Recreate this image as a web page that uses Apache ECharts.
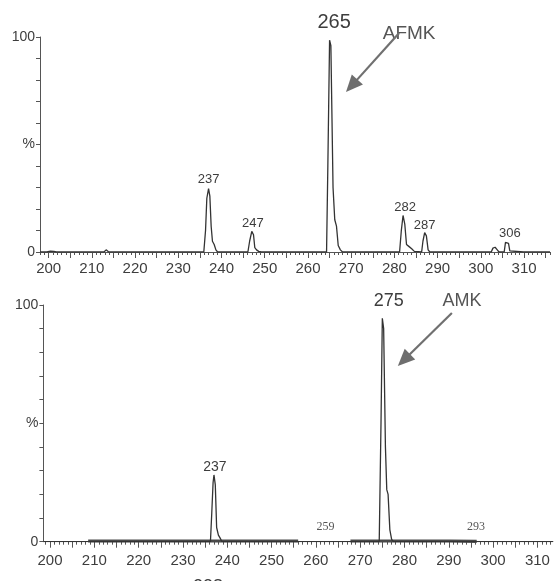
<!DOCTYPE html>
<html>
<head>
<meta charset="utf-8">
<script src="https://cdn.jsdelivr.net/npm/echarts@6/dist/echarts.min.js"></script>
<style>
html, body { margin: 0; padding: 0; background: #ffffff; }
#chart { width: 554px; height: 581px; }
</style>
</head>
<body>
<div id="chart"></div>
<script>
// Upper spectrum (AFMK): m/z and relative intensity (%)
const afmkMz = [198, 199.6, 200.4, 201.2, 201.8, 212.8, 213.3, 213.9,
  235.9, 236.3, 236.6, 237.0, 237.3, 237.6, 237.9, 238.3, 238.7, 239.1,
  246.1, 246.5, 247.0, 247.4, 247.7, 248.1, 248.6, 249.2,
  255.7, 256.1, 256.6,
  264.3, 264.6, 265.0, 265.3, 265.8, 266.2, 266.6, 267.0, 267.5, 268.0,
  281.2, 281.6, 282.0, 282.4, 282.8, 283.4, 284.0, 284.6, 285.0,
  286.3, 286.6, 287.0, 287.4, 287.8, 288.2,
  291.7, 292.1, 292.5,
  302.4, 302.8, 303.3, 303.8, 304.2,
  305.4, 305.7, 306.0, 306.4, 306.7, 307.0,
  309.9, 310.3, 310.7, 316];
const afmkIntensity = [0, 0, 0.4, 0.3, 0, 0, 1.0, 0,
  0, 10, 25, 29.5, 26, 12, 5, 3.5, 1, 0,
  0, 5, 9.6, 8, 2, 1, 0.3, 0,
  0, 0.5, 0,
  0, 40, 98.5, 96, 30, 15, 12, 3, 1, 0,
  0, 10, 17, 13, 3.5, 2.5, 1.5, 0.3, 0,
  0, 5, 9, 7.5, 1, 0,
  0, 0.4, 0,
  0, 1.8, 2.2, 1, 0,
  0, 4.5, 5.3, 4, 0.5, 0,
  0, 0.5, 0, 0];

// Lower spectrum (AMK)
const amkMz = [198.5, 236.2, 236.5, 236.8, 237.0, 237.3, 237.6, 238.0, 238.4, 238.8,
  274.3, 274.7, 275.0, 275.3, 275.7, 276.0, 276.3, 276.7, 277.1, 277.5, 313.5];
const amkIntensity = [0, 0, 12, 25, 28.2, 24, 6, 2.8, 1.5, 0,
  0, 50, 94.4, 90, 40, 22, 20, 5, 1, 0, 0];

// Noise band along the lower baseline ('-' breaks the trace)
const amkNoiseMz = [208.6, 256.0, 262.0, 267.8, 290.3, 290.4, 296.3];
const amkNoiseLevel = [0.3, 0.3, '-', 0.3, 0.3, 0.15, 0.15];

// Axis ticks and labels
const mzTickLabels = [200, 210, 220, 230, 240, 250, 260, 270, 280, 290, 300, 310];
const mzMajorTicks = [200, 205, 210, 215, 220, 225, 230, 235, 240, 245, 250, 255, 260,
  265, 270, 275, 280, 285, 290, 295, 300, 305, 310, 315];
const intensityLabels = { 0: '0', 50: '%', 100: '100' };

// Labelled peaks
const afmkPeakLabels = [237, 247, 265, 282, 287, 306];
const amkPeakLabels = [237, 275];
const amkSmallLabels = [259, 293];

// Label placement (pixels, relative to the peak apex)
const labelStyle = {
  afmk: {
    237: { dx: 0, dy: -9, size: 13 },
    247: { dx: 1, dy: -7.5, size: 13 },
    265: { dx: 4.5, dy: -18, size: 20 },
    282: { dx: 2, dy: -8, size: 13 },
    287: { dx: 0, dy: -7, size: 13 },
    306: { dx: 3, dy: -7, size: 13 }
  },
  amk: {
    237: { dx: 1, dy: -8, size: 14 },
    275: { dx: 6.5, dy: -17, size: 18 }
  }
};

const SANS = "'Liberation Sans', Arial, Helvetica, sans-serif";
const SERIF = "'Liberation Serif', 'Times New Roman', serif";
const INK = '#3d3d3d';
const AXIS = '#555555';

const grids = [
  { left: 40, top: 37, width: 510, height: 215, min: 198, max: 316, size: 15, margin: 9 },
  { left: 43.4, top: 305, width: 509.5, height: 236.7, min: 198.5, max: 313.5, size: 15, margin: 12 }
];

function pairs(xs, ys) { return xs.map((x, i) => [x, ys[i]]); }
function unitTicks(min, max) {
  const out = [];
  for (let v = Math.ceil(min); v <= max; v++) out.push(v);
  return out;
}
function apex(xs, ys, mz) {
  let best = 0, bd = Infinity;
  xs.forEach((x, i) => { const d = Math.abs(x - mz); if (d < bd && ys[i] !== '-') { bd = d; best = i; } });
  return ys[best];
}

const xAxes = [];
const yAxes = [];
grids.forEach((g, gi) => {
  xAxes.push({
    type: 'value', gridIndex: gi, min: g.min, max: g.max, position: 'bottom',
    axisLine: { show: true, onZero: false, lineStyle: { color: AXIS, width: 1 } },
    axisTick: { show: true, length: 3, customValues: unitTicks(g.min, g.max), lineStyle: { color: AXIS, width: 1 } },
    axisLabel: { show: true, customValues: mzTickLabels, margin: g.margin, color: INK,
      fontFamily: SANS, fontSize: g.size },
    splitLine: { show: false }
  });
  xAxes.push({
    type: 'value', gridIndex: gi, min: g.min, max: g.max, position: 'bottom',
    axisLine: { show: false, onZero: false },
    axisTick: { show: true, length: 6, customValues: mzMajorTicks, lineStyle: { color: AXIS, width: 1 } },
    axisLabel: { show: false },
    splitLine: { show: false }
  });
  yAxes.push({
    type: 'value', gridIndex: gi, min: 0, max: 100, interval: 10,
    axisLine: { show: true, onZero: false, lineStyle: { color: AXIS, width: 1 } },
    axisTick: { show: true, length: 4, lineStyle: { color: AXIS, width: 1 } },
    axisLabel: { show: true, margin: 5, color: INK, fontFamily: SANS, fontSize: 14,
      formatter: v => (intensityLabels[v] !== undefined ? intensityLabels[v] : '') },
    splitLine: { show: false }
  });
});

function peakMarks(xs, ys, list, styles) {
  return list.map(mz => {
    const s = styles[mz];
    return {
      name: String(mz),
      coord: [mz, apex(xs, ys, mz)],
      label: { offset: [s.dx, s.dy], fontSize: s.size, fontFamily: SANS }
    };
  });
}

const traceStyle = { color: '#333333', width: 1.3 };

const option = {
  animation: false,
  backgroundColor: '#ffffff',
  grid: grids.map(g => ({ left: g.left, top: g.top, width: g.width, height: g.height,
    containLabel: false, outerBoundsMode: 'none' })),
  xAxis: xAxes,
  yAxis: yAxes,
  series: [
    {
      name: 'AFMK', type: 'line', xAxisIndex: 0, yAxisIndex: 0,
      data: pairs(afmkMz, afmkIntensity), showSymbol: false, symbol: 'none',
      lineStyle: traceStyle, z: 3,
      markPoint: {
        symbol: 'circle', symbolSize: 0, silent: true,
        label: { show: true, position: 'inside', color: INK, formatter: p => p.name },
        data: peakMarks(afmkMz, afmkIntensity, afmkPeakLabels, labelStyle.afmk)
      }
    },
    {
      name: 'AMK', type: 'line', xAxisIndex: 2, yAxisIndex: 1,
      data: pairs(amkMz, amkIntensity), showSymbol: false, symbol: 'none',
      lineStyle: traceStyle, z: 3,
      markPoint: {
        symbol: 'circle', symbolSize: 0, silent: true,
        label: { show: true, position: 'inside', color: INK, formatter: p => p.name },
        data: peakMarks(amkMz, amkIntensity, amkPeakLabels, labelStyle.amk).concat(
          amkSmallLabels.map(mz => ({
            name: String(mz), coord: [mz, 0],
            label: { offset: [14, -15], fontSize: 12, fontFamily: SERIF, color: '#555555' }
          }))
        )
      }
    },
    {
      name: 'AMK noise', type: 'line', xAxisIndex: 2, yAxisIndex: 1,
      data: pairs(amkNoiseMz, amkNoiseLevel), showSymbol: false, symbol: 'none',
      connectNulls: false,
      lineStyle: { color: '#4a4a4a', width: 3.2 }, z: 2
    }
  ]
};

const chart = echarts.init(document.getElementById('chart'), null, { renderer: 'canvas' });
chart.setOption(option);

// Compound names with arrows, anchored in data coordinates of each panel
const callouts = [
  { grid: 0, text: 'AFMK', at: [283.4, 101.4], from: [281.1, 101.9], to: [268.8, 74.4], size: 19 },
  { grid: 1, text: 'AMK', at: [293.0, 101.7], from: [290.7, 96.6], to: [278.5, 74.2], size: 18 }
];

const graphics = [];
callouts.forEach(c => {
  const p = chart.convertToPixel({ xAxisIndex: c.grid * 2, yAxisIndex: c.grid }, c.at);
  const a = chart.convertToPixel({ xAxisIndex: c.grid * 2, yAxisIndex: c.grid }, c.from);
  const b = chart.convertToPixel({ xAxisIndex: c.grid * 2, yAxisIndex: c.grid }, c.to);
  const dx = b[0] - a[0], dy = b[1] - a[1];
  const len = Math.sqrt(dx * dx + dy * dy);
  const ux = dx / len, uy = dy / len;
  const headLen = 17, headHalf = 7.5;
  const base = [b[0] - ux * headLen, b[1] - uy * headLen];
  graphics.push({
    type: 'line', silent: true, z: 10,
    shape: { x1: a[0], y1: a[1], x2: base[0] + ux * 2, y2: base[1] + uy * 2 },
    style: { stroke: '#707070', lineWidth: 2.2 }
  });
  graphics.push({
    type: 'polygon', silent: true, z: 10,
    shape: { points: [b, [base[0] - uy * headHalf, base[1] + ux * headHalf], [base[0] + uy * headHalf, base[1] - ux * headHalf]] },
    style: { fill: '#6e6e6e' }
  });
  graphics.push({
    type: 'text', silent: true, z: 9, x: p[0], y: p[1],
    style: { text: c.text, fill: '#555555', font: c.size + 'px ' + SANS, align: 'center', verticalAlign: 'middle' }
  });
});

// Axis caption, cut by the lower edge
graphics.push({
  type: 'text', silent: true, left: 193, top: 578,
  style: { text: '238', fill: INK, font: '18px ' + SANS }
});

chart.setOption({ graphic: graphics });
</script>
</body>
</html>
